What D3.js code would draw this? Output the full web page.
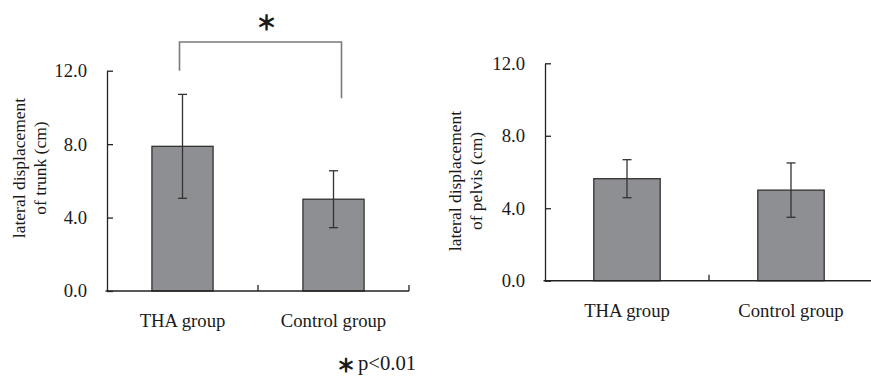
<!DOCTYPE html>
<html>
<head>
<meta charset="utf-8">
<script src="https://cdn.jsdelivr.net/npm/d3@7"></script>
<style>
  html, body { margin: 0; padding: 0; background: #fff; }
  svg { display: block; }
  text { font-family: "Liberation Serif", "Times New Roman", serif; fill: #1a1a1a; }
</style>
</head>
<body>
<svg id="chart" width="871" height="382"></svg>
<script>
// ---- data ----
const categories = ["THA group", "Control group"];
const trunkMean = [7.88, 5.0];
const trunkSD = [2.83, 1.55];
const pelvisMean = [5.63, 5.0];
const pelvisSD = [1.05, 1.5];
const yTicks = [0, 4, 8, 12];
const trunkTitle = ["lateral displacement", "of trunk (cm)"];
const pelvisTitle = ["lateral displacement", "of pelvis (cm)"];
const sigMark = "＊";
const noteText = "p<0.01";

const svg = d3.select("#chart");
const serif = "'Liberation Serif', 'Times New Roman', serif";

function panel(opt) {
  const g = svg.append("g");
  const y = d3.scaleLinear().domain([0, 12]).range([opt.y0, opt.y1]);
  const x = d3.scaleBand().domain(categories).range([opt.x0, opt.x1])
    .paddingInner(0.595).paddingOuter(0.2975);

  // y axis
  const ya = g.append("g").attr("transform", `translate(${opt.x0},0)`)
    .call(d3.axisLeft(y).tickValues(yTicks).tickFormat(d3.format(".1f"))
      .tickSizeInner(-6).tickSizeOuter(0).tickPadding(20));
  ya.selectAll("path, line").attr("stroke", "#222").attr("stroke-width", 1.3);
  ya.selectAll("text").style("font-size", "18.7px").attr("fill", "#1a1a1a")
    .style("font-family", serif);

  // bars
  g.selectAll("rect.bar").data(categories).join("rect")
    .attr("class", "bar")
    .attr("x", d => x(d))
    .attr("width", x.bandwidth())
    .attr("y", (d, i) => y(opt.mean[i]))
    .attr("height", (d, i) => y(0) - y(opt.mean[i]))
    .attr("fill", "#8e8f92")
    .attr("stroke", "#333")
    .attr("stroke-width", 1.3);

  // error bars
  const eb = g.selectAll("g.err").data(categories).join("g").attr("class", "err");
  eb.append("line")
    .attr("x1", d => x(d) + x.bandwidth() / 2)
    .attr("x2", d => x(d) + x.bandwidth() / 2)
    .attr("y1", (d, i) => y(opt.mean[i] + opt.sd[i]))
    .attr("y2", (d, i) => y(opt.mean[i] - opt.sd[i]))
    .attr("stroke", "#333").attr("stroke-width", 1.3);
  [1, -1].forEach(s => {
    eb.append("line")
      .attr("x1", d => x(d) + x.bandwidth() / 2 - 4.5)
      .attr("x2", d => x(d) + x.bandwidth() / 2 + 4.5)
      .attr("y1", (d, i) => y(opt.mean[i] + s * opt.sd[i]))
      .attr("y2", (d, i) => y(opt.mean[i] + s * opt.sd[i]))
      .attr("stroke", "#333").attr("stroke-width", 1.3);
  });

  // x axis line + boundary ticks
  g.append("line").attr("x1", opt.x0 - 1.5).attr("x2", opt.x1)
    .attr("y1", y(0)).attr("y2", y(0)).attr("stroke", "#222").attr("stroke-width", 1.5);
  g.selectAll("line.xt").data(d3.range(1, categories.length + 1)).join("line")
    .attr("class", "xt")
    .attr("x1", i => opt.x0 + i * x.step()).attr("x2", i => opt.x0 + i * x.step())
    .attr("y1", y(0)).attr("y2", y(0) - 6)
    .attr("stroke", "#222").attr("stroke-width", 1.3);

  // category labels
  const xa = g.append("g").attr("transform", `translate(0,${y(0)})`)
    .call(d3.axisBottom(x).tickSize(0).tickPadding(23));
  xa.select("path").remove();
  xa.selectAll("text").style("font-size", "18.7px").attr("fill", "#1a1a1a")
    .style("font-family", serif);

  // axis title (two lines, rotated)
  const t = g.append("text")
    .attr("transform", `translate(${opt.tx},${opt.ty}) rotate(-90)`)
    .attr("text-anchor", "middle")
    .style("font-size", "17.5px");
  opt.title.forEach((s, i) => {
    t.append("tspan").attr("x", 0).attr("y", i * opt.lineGap).text(s);
  });
  return { x, y };
}

const L = panel({ x0: 107, x1: 409, y0: 291, y1: 70.7, mean: trunkMean, sd: trunkSD,
  title: trunkTitle, tx: 25, ty: 168, lineGap: 21 });
const R = panel({ x0: 545, x1: 873, y0: 280.7, y1: 63.3, mean: pelvisMean, sd: pelvisSD,
  title: pelvisTitle, tx: 460.5, ty: 181, lineGap: 21 });

// significance bracket on left panel
const cx0 = L.x(categories[0]) + L.x.bandwidth() / 2 - 3;
const cx1 = L.x(categories[1]) + L.x.bandwidth() / 2 + 8;
const by = 42;
svg.append("path")
  .attr("d", `M${cx0},${L.y(12)} V${by} H${cx1} V${L.y(10.5)}`)
  .attr("fill", "none").attr("stroke", "#7a7a7a").attr("stroke-width", 1.6);
svg.append("text").attr("x", (cx0 + cx1) / 2 + 6).attr("y", 21)
  .attr("text-anchor", "middle").attr("dominant-baseline", "central")
  .style("font-family", "'Noto Sans CJK JP', sans-serif").style("font-size", "20px")
  .attr("stroke", "#1a1a1a").attr("stroke-width", 1.1)
  .text(sigMark);

// footnote
svg.append("text").attr("x", 346).attr("y", 363.5)
  .attr("text-anchor", "middle").attr("dominant-baseline", "central")
  .style("font-family", "'Noto Sans CJK JP', sans-serif").style("font-size", "18px")
  .attr("stroke", "#1a1a1a").attr("stroke-width", 1.1)
  .text(sigMark);
svg.append("text").attr("x", 358).attr("y", 370).style("font-size", "20.7px").text(noteText);
</script>
</body>
</html>
